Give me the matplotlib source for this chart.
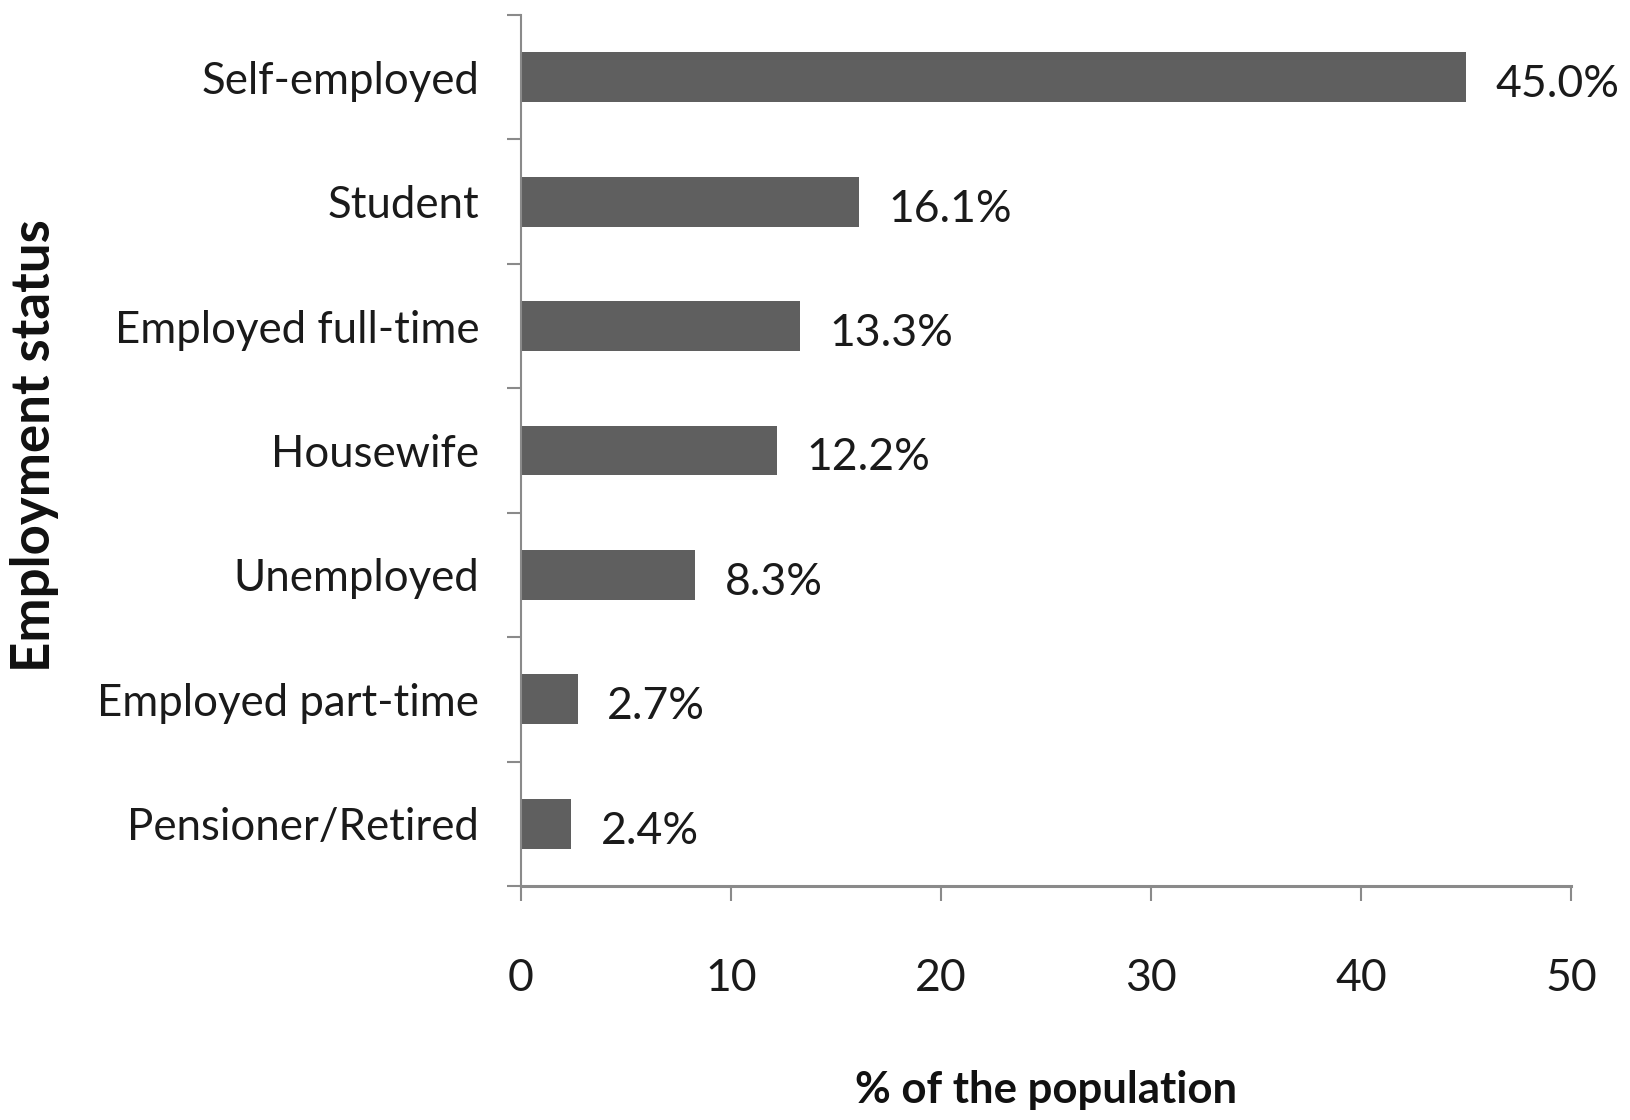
import matplotlib
matplotlib.use("Agg")
import matplotlib.pyplot as plt
import numpy as np

categories = ["Self-employed", "Student", "Employed full-time", "Housewife",
              "Unemployed", "Employed part-time", "Pensioner/Retired"]
values = [45.0, 16.1, 13.3, 12.2, 8.3, 2.7, 2.4]
x_ticks = [0, 10, 20, 30, 40, 50]

plt.rcParams['font.family'] = ['Lato', 'DejaVu Sans']

W, H = 1630, 1120
fig = plt.figure(figsize=(W / 100, H / 100), dpi=100)
ax = fig.add_axes([521 / W, 1 - 886 / H, 1050 / W, 871 / H])

ypos = np.arange(len(categories))
ax.barh(ypos, values, height=0.4, color="#5f5f5f", edgecolor="none")

axis_col = "#8a8a8a"
ax.set_xlim(0, 50)
ax.set_ylim(len(categories) - 0.5, -0.5)
for s in ["top", "right"]:
    ax.spines[s].set_visible(False)
ax.spines["left"].set_color(axis_col)
ax.spines["left"].set_linewidth(1.5)
ax.spines["bottom"].set_color(axis_col)
ax.spines["bottom"].set_linewidth(2.2)

ax.set_yticks(ypos)
ax.set_yticklabels(categories)
ax.set_yticks(np.arange(-0.5, len(categories), 1), minor=True)
ax.tick_params(axis="y", which="major", length=0, pad=30, labelsize=31.5, labelcolor="#1a1a1a")
ax.tick_params(axis="y", which="minor", length=10, width=1.5, color=axis_col, direction="out")

ax.set_xticks(x_ticks)
ax.set_xticklabels([str(t) for t in x_ticks])
ax.tick_params(axis="x", which="major", length=11, width=1.5, color=axis_col,
               direction="out", pad=41, labelsize=32, labelcolor="#1a1a1a")

for y, v in zip(ypos, values):
    ax.text(v + 1.4, y + 0.06, f"{v:.1f}%", va="center", ha="left",
            fontsize=32, color="#1a1a1a")

fig.text(1046 / W, 1 - 1090 / H, "% of the population", ha="center", va="center",
         fontsize=31.5, fontweight="bold", color="#111111")
fig.text(35 / W, 1 - 446 / H, "Employment status", ha="center", va="center",
         rotation=90, fontsize=38, fontweight="bold", color="#111111")

fig.savefig("out.png", dpi=100, facecolor="white")
